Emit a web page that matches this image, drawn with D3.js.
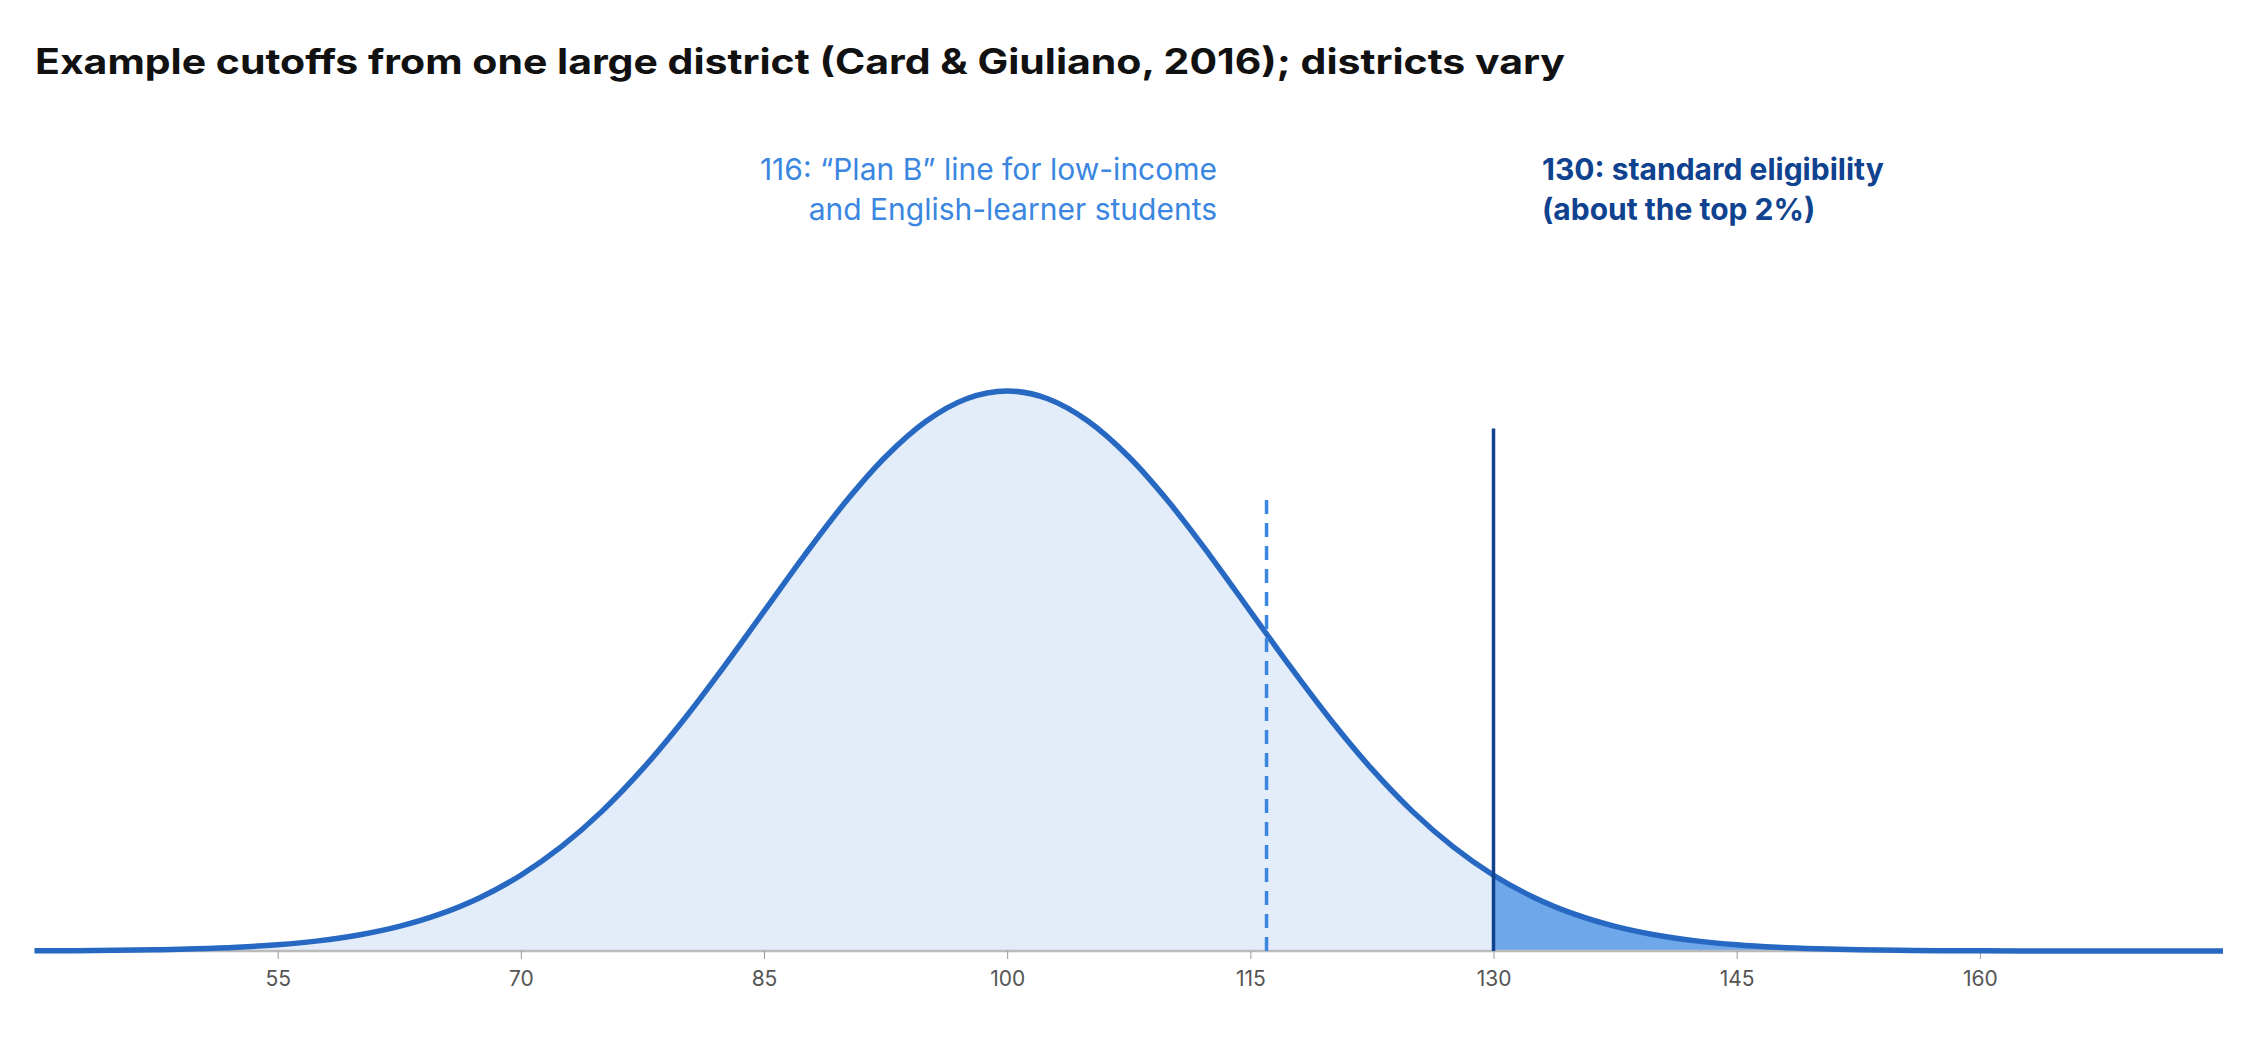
<!DOCTYPE html>
<html><head><meta charset="utf-8">
<script src="https://cdn.jsdelivr.net/npm/d3@7"></script>
<style>body{margin:0;background:#fff}svg{display:block}text{font-family:Inter,"Liberation Sans",Arial,sans-serif}</style>
</head><body><svg id="c" width="2256" height="1040"></svg>
<script>
const scoreX=[40,42.5,45,47.5,50,52.5,55,57.5,60,62.5,65,67.5,70,72.5,75,77.5,80,82.5,85,87.5,90,92.5,95,97.5,100,102.5,105,107.5,110,112.5,115,117.5,120,122.5,125,127.5,130,132.5,135,137.5,140,142.5,145,147.5,150,152.5,155,157.5,160,162.5,165,167.5,170,172.5,175];
const density=[0.000335,0.000644,0.001203,0.002187,0.003866,0.006646,0.011109,0.018063,0.028566,0.043937,0.065729,0.095624,0.135335,0.18627,0.249352,0.324652,0.411112,0.506336,0.606531,0.706648,0.800737,0.882497,0.945959,0.986207,1,0.986207,0.945959,0.882497,0.800737,0.706648,0.606531,0.506336,0.411112,0.324652,0.249352,0.18627,0.135335,0.095624,0.065729,0.043937,0.028566,0.018063,0.011109,0.006646,0.003866,0.002187,0.001203,0.000644,0.000335,0.000167,0.0000836,0.0000401,0.0000186,0.0000085,0.0000037];
const tickValues=[55,70,85,100,115,130,145,160];
const cutoffs=[116,130];
const cutoffHeights=[0.81,0.933];
const title="Example cutoffs from one large district (Card & Giuliano, 2016); districts vary";
const planBLabel=["116: “Plan B” line for low-income","and English-learner students"];
const stdLabel=["130: standard eligibility","(about the top 2%)"];

const svg=d3.select("#c");
const x=d3.scaleLinear().domain([40,175]).range([34.5,2223]);
const y=d3.scaleLinear().domain([0,1]).range([951,391]);
const pts=scoreX.map((v,i)=>[v,density[i]]);
const area=d3.area().x(d=>x(d[0])).y0(y(0)).y1(d=>y(d[1])).curve(d3.curveMonotoneX);
const line=d3.line().x(d=>x(d[0])).y(d=>y(d[1])).curve(d3.curveMonotoneX);
svg.append("path").attr("d",area(pts)).attr("fill","#e3edf9");
svg.append("path").attr("d",area(pts.filter(d=>d[0]>=130))).attr("fill","#6fa8ea");
svg.append("line").attr("x1",x(40)).attr("x2",x(175)).attr("y1",y(0)).attr("y2",y(0)).attr("stroke","#bbbbbb").attr("stroke-width",2.5);
const ax=svg.append("g").attr("transform",`translate(0,${y(0)})`).call(d3.axisBottom(x).tickValues(tickValues).tickSize(8).tickPadding(12));
ax.select(".domain").remove();
ax.selectAll("line").attr("stroke","#999");
ax.selectAll("text").attr("font-size",21).attr("fill","#555").style("font-family","Inter, Arial");
svg.append("path").attr("d",line(pts)).attr("fill","none").attr("stroke","#2769c2").attr("stroke-width",5.5);
svg.append("line").attr("x1",x(cutoffs[0])).attr("x2",x(cutoffs[0])).attr("y1",y(0)).attr("y2",y(cutoffHeights[0])).attr("stroke","#3a86e0").attr("stroke-width",3.5).attr("stroke-dasharray","14,9");
svg.append("line").attr("x1",x(cutoffs[1])).attr("x2",x(cutoffs[1])).attr("y1",y(0)).attr("y2",y(cutoffHeights[1])).attr("stroke","#0f428f").attr("stroke-width",3.5);
svg.append("text").attr("x",35).attr("y",74).attr("font-size",35).attr("font-weight","bold").attr("fill","#111").attr("textLength",1530).attr("lengthAdjust","spacingAndGlyphs").text(title);
planBLabel.forEach((t,i)=>svg.append("text").attr("x",1217).attr("y",180+i*40).attr("text-anchor","end").attr("font-size",30).attr("fill","#3a86e0").text(t));
stdLabel.forEach((t,i)=>svg.append("text").attr("x",1542).attr("y",180+i*40).attr("font-size",30).attr("font-weight","bold").attr("fill","#0f428f").text(t));
</script></body></html>
